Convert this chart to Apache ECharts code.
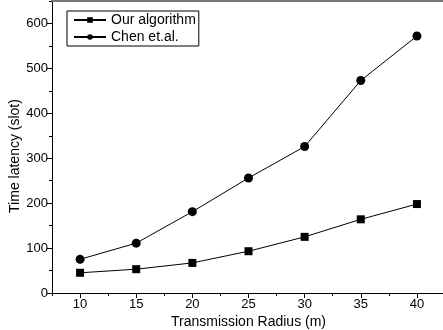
<!DOCTYPE html>
<html>
<head>
<meta charset="utf-8">
<script src="https://cdn.jsdelivr.net/npm/echarts@6/dist/echarts.min.js"></script>
<style>
  html, body { margin: 0; padding: 0; background: #fff; }
  #chart { width: 443px; height: 330px; }
</style>
</head>
<body>
<div id="chart"></div>
<script>
// data
var radius = [10, 15, 20, 25, 30, 35, 40]
var ourAlgorithm = [45, 53, 67, 93, 125, 164, 198]
var chenEtAl = [75, 111, 181, 256, 326, 473, 572]
var xMajorTicks = [10, 15, 20, 25, 30, 35, 40]
var yMajorTicks = [0, 100, 200, 300, 400, 500, 600]

var font = 'Liberation Sans, Arial, sans-serif'

function pairs(xs, ys) {
  return xs.map(function (x, i) { return [x, ys[i]] })
}

var chart = echarts.init(document.getElementById('chart'))
chart.setOption({
  animation: false,
  textStyle: { fontFamily: font, color: '#000' },
  grid: { left: 52, right: -2, top: 1, bottom: 37, outerBoundsMode: 'none', containLabel: false },
  legend: {
    orient: 'vertical',
    left: 67,
    top: 11,
    padding: [2, 3, 2, 6],
    itemGap: 3,
    itemWidth: 32,
    itemHeight: 7,
    borderColor: '#000',
    borderWidth: 1,
    textStyle: { fontSize: 14, color: '#000', fontFamily: font },
    data: ['Our algorithm', 'Chen et.al.']
  },
  xAxis: [{
    type: 'value',
    min: 7.5,
    max: 42.5,
    name: 'Transmission Radius (m)',
    nameLocation: 'middle',
    nameGap: 22,
    nameMoveOverlap: false,
    nameTextStyle: { fontSize: 14, color: '#000' },
    axisLine: { lineStyle: { color: '#000', width: 1 } },
    axisTick: { customValues: xMajorTicks, length: 5, lineStyle: { color: '#000' } },
    axisLabel: { customValues: xMajorTicks, fontSize: 13, color: '#000', margin: 5 },
    splitLine: { show: false }
  }, {
    // minor ticks
    type: 'value',
    min: 7.5,
    max: 42.5,
    interval: 2.5,
    position: 'bottom',
    axisLine: { show: false },
    axisTick: { length: 3, lineStyle: { color: '#000' } },
    axisLabel: { show: false },
    splitLine: { show: false }
  }, {
    // top frame line
    type: 'value',
    min: 7.5,
    max: 42.5,
    position: 'top',
    axisLine: { lineStyle: { color: '#777', width: 2 } },
    axisTick: { show: false },
    axisLabel: { show: false },
    splitLine: { show: false }
  }],
  yAxis: [{
    type: 'value',
    min: 0,
    max: 650,
    name: 'Time latency (slot)',
    nameLocation: 'middle',
    nameGap: 30,
    nameMoveOverlap: false,
    nameTextStyle: { fontSize: 14, color: '#000', padding: [0, 18, 0, 0] },
    axisLine: { show: true, lineStyle: { color: '#000', width: 1 } },
    axisTick: { show: true, customValues: yMajorTicks, length: 5, lineStyle: { color: '#000' } },
    axisLabel: { customValues: yMajorTicks, fontSize: 13, color: '#000', margin: 4 },
    splitLine: { show: false }
  }, {
    // minor ticks
    type: 'value',
    min: 0,
    max: 650,
    interval: 50,
    position: 'left',
    axisLine: { show: false },
    axisTick: { show: true, length: 3, lineStyle: { color: '#000' } },
    axisLabel: { show: false },
    splitLine: { show: false }
  }],
  series: [{
    name: 'Our algorithm',
    type: 'line',
    data: pairs(radius, ourAlgorithm),
    symbol: 'rect',
    symbolSize: 8,
    itemStyle: { color: '#000' },
    lineStyle: { color: '#000', width: 1 }
  }, {
    name: 'Chen et.al.',
    type: 'line',
    data: pairs(radius, chenEtAl),
    symbol: 'circle',
    symbolSize: 9,
    itemStyle: { color: '#000' },
    lineStyle: { color: '#000', width: 1 }
  }]
})
</script>
</body>
</html>
